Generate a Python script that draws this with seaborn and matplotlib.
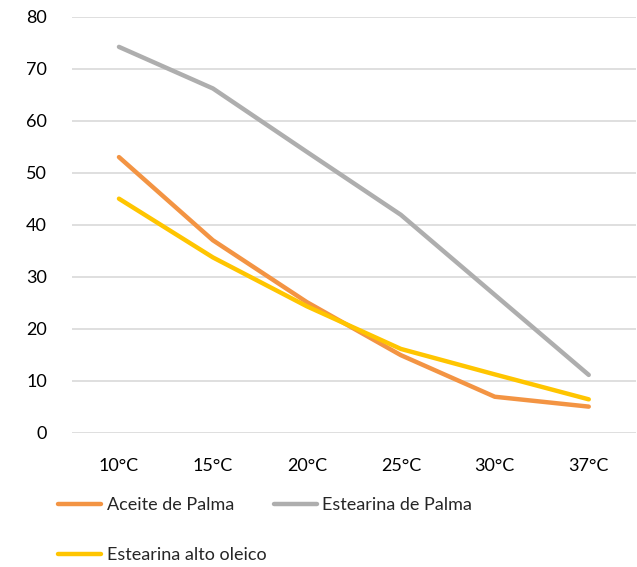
import pandas as pd
import matplotlib.pyplot as plt
import seaborn as sns
from matplotlib.lines import Line2D

# Data
temperaturas = ["10°C", "15°C", "20°C", "25°C", "30°C", "37°C"]
aceite_palma = [53.0, 37.0, 25.1, 14.9, 6.9, 5.0]
estearina_palma = [74.2, 66.2, 54.0, 41.9, 26.5, 11.1]
estearina_alto_oleico = [45.0, 33.7, 24.3, 16.1, 11.2, 6.4]

series = ["Aceite de Palma", "Estearina de Palma", "Estearina alto oleico"]
colores = ["#F39443", "#AEAEAE", "#FFC500"]

df = pd.DataFrame({
    "temp": temperaturas * 3,
    "valor": aceite_palma + estearina_palma + estearina_alto_oleico,
    "serie": [s for s in series for _ in temperaturas],
})

sns.set_theme(style="white")
plt.rcParams["font.family"] = ["Lato", "DejaVu Sans"]

fig = plt.figure(figsize=(6.37, 5.67), dpi=100)
ax = fig.add_axes([0.113, 0.237, 0.885, 0.7335])

sns.lineplot(
    data=df, x="temp", y="valor", hue="serie", palette=colores,
    hue_order=series, linewidth=3.2, sort=False, legend=False, ax=ax,
)
for line in ax.lines:
    line.set_solid_capstyle("round")

ax.set_xlim(-0.5, 5.5)
ax.set_ylim(0, 80)
ax.set_yticks(range(0, 81, 10))
ax.set_xlabel("")
ax.set_ylabel("")
ax.grid(axis="y", color="#D9D9D9", linewidth=1.2)
ax.set_axisbelow(True)
for s in ax.spines.values():
    s.set_visible(False)
ax.tick_params(axis="both", length=0, labelsize=13, colors="black")
ax.tick_params(axis="x", pad=18)
ax.tick_params(axis="y", pad=18)

# legend filled column by column, so reorder to get the row layout
orden = [0, 2, 1]
handles = [Line2D([0], [0], color=colores[i], linewidth=3.2, solid_capstyle="round") for i in orden]
labels = [series[i] for i in orden]
fig.legend(
    handles, labels, loc="upper left", bbox_to_anchor=(58 / 637, 1 - 497 / 567),
    ncol=2, frameon=False, fontsize=13, handlelength=2.4, handletextpad=0.3,
    columnspacing=0.4, labelspacing=1.9, borderpad=0, borderaxespad=0,
)

plt.savefig("out.png", dpi=100)
